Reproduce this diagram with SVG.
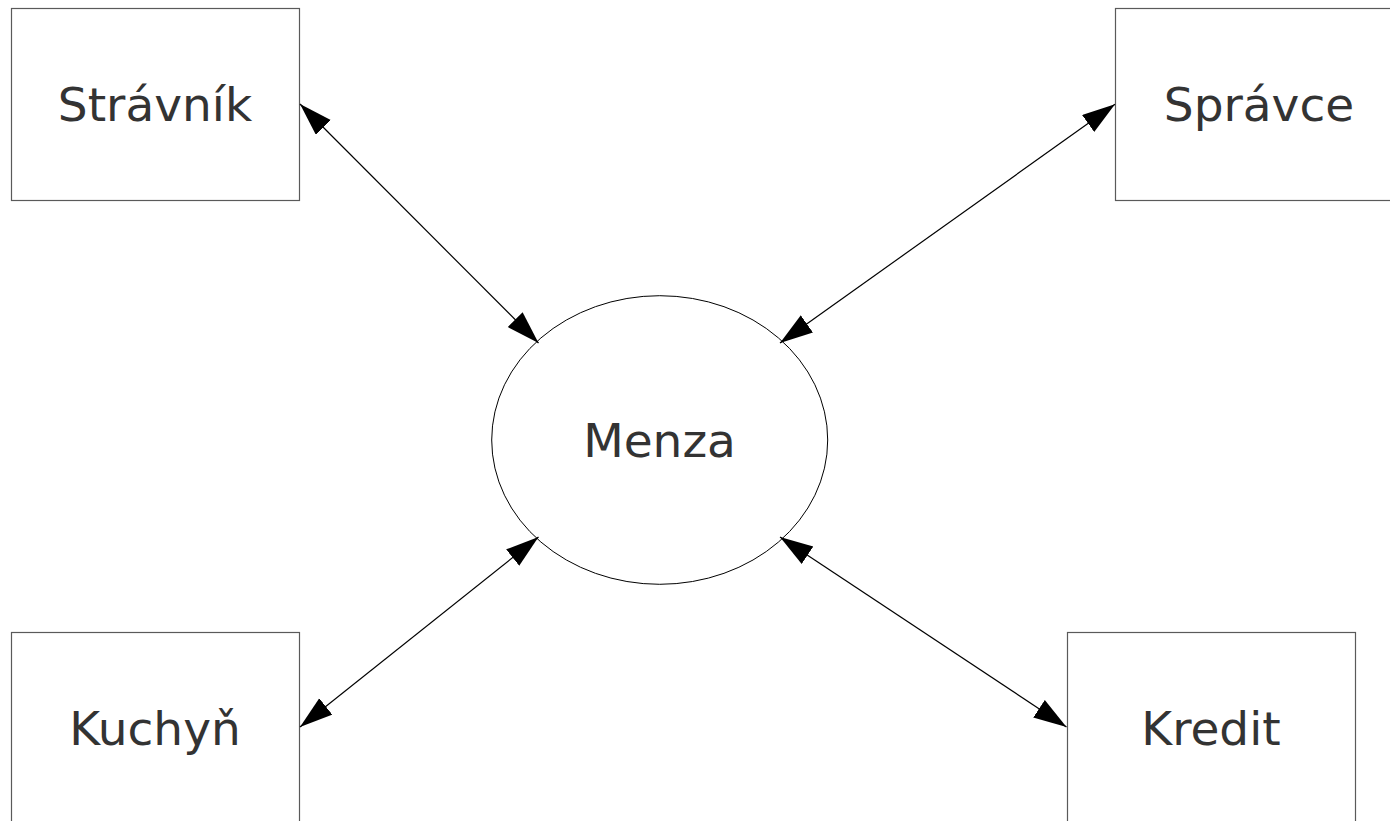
<svg xmlns="http://www.w3.org/2000/svg" width="1390" height="821" viewBox="0 0 1390 821">
  <style>
    .box { fill: #ffffff; stroke: #5a5a5a; stroke-width: 1.2; }
    .oval { fill: #ffffff; stroke: #000000; stroke-width: 1; }
    .label { font-family: "DejaVu Sans", "Liberation Sans", sans-serif; font-size: 47px; fill: #333333; text-anchor: middle; }
    .link { stroke: #000000; stroke-width: 1.2; fill: none; marker-start: url(#head); marker-end: url(#head); }
  </style>
  <defs>
    <marker id="head" markerUnits="userSpaceOnUse" markerWidth="34" markerHeight="22" refX="33" refY="10.5" orient="auto-start-reverse">
      <path d="M0,0 L33,10.5 L0,21 z" fill="#000000"/>
    </marker>
  </defs>
  <rect width="1390" height="821" fill="#ffffff"/>

  <g id="stravnik">
    <rect class="box" x="11.5" y="8.5" width="288" height="192"/>
    <text class="label" x="155" y="120.5">Strávník</text>
  </g>
  <g id="spravce">
    <rect class="box" x="1115.5" y="8.5" width="288" height="192"/>
    <text class="label" x="1259" y="120.5">Správce</text>
  </g>
  <g id="kuchyn">
    <rect class="box" x="11.5" y="632.5" width="288" height="200"/>
    <text class="label" x="155" y="745">Kuchyň</text>
  </g>
  <g id="kredit">
    <rect class="box" x="1067.5" y="632.5" width="288" height="200"/>
    <text class="label" x="1211" y="745">Kredit</text>
  </g>
  <g id="menza">
    <ellipse class="oval" cx="659.7" cy="440" rx="168" ry="144.3"/>
    <text class="label" x="659.5" y="456.5">Menza</text>
  </g>

  <g id="connectors">
    <line class="link" x1="300" y1="104" x2="538.5" y2="343"/>
    <line class="link" x1="1115" y1="104.3" x2="780" y2="343"/>
    <line class="link" x1="300" y1="727" x2="538.5" y2="537"/>
    <line class="link" x1="1066.5" y1="727" x2="780" y2="537"/>
  </g>
</svg>
